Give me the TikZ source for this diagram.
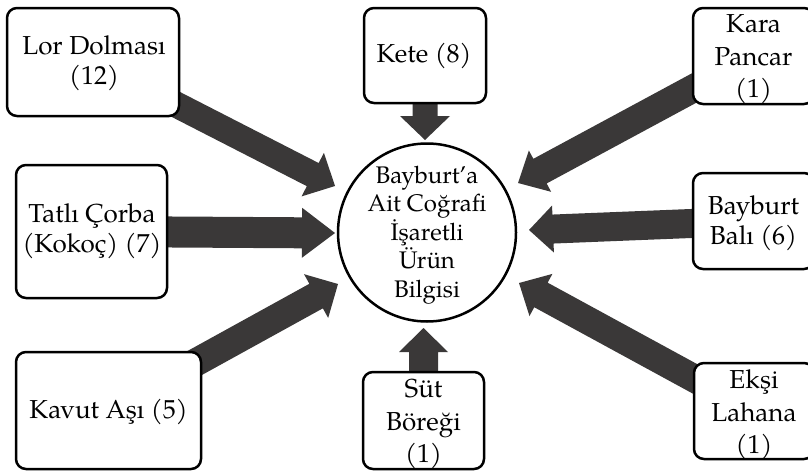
\documentclass[tikz,border=0pt]{standalone}
\usepackage{fontspec}
\setmainfont{TeX Gyre Pagella}
\usetikzlibrary{calc,backgrounds}

\definecolor{arrowgray}{HTML}{3A3838}

% Broad block arrow from #2 to the tip #3:
% #4 half shaft width, #5 half head width, #6 head length
\newcommand\blockarrow[6]{%
  \coordinate (#1base) at ($(#3)!#6!(#2)$);
  \fill[arrowfill]
    ($(#2)!#4!90:(#3)$) -- ($(#1base)!#4!-90:(#2)$) --
    ($(#1base)!#5!-90:(#2)$) -- (#3) -- ($(#1base)!#5!90:(#2)$) --
    ($(#1base)!#4!90:(#2)$) -- ($(#2)!#4!-90:(#3)$) -- cycle;}

\tikzset{
  arrowfill/.style={fill=arrowgray},
  itembox/.style={draw=black, fill=white, line width=2.5pt, rounded corners=10pt,
    inner sep=0pt},
  itemtext/.style={align=center, inner sep=0pt,
    font=\fontsize{26}{30}\selectfont},
  tallitemtext/.style={itemtext, font=\fontsize{26}{32.5}\selectfont},
  hub/.style={draw=black, fill=white, line width=2.5pt, circle, inner sep=0pt,
    minimum size=178pt},
  hubtext/.style={align=center, inner sep=0pt,
    font=\fontsize{24}{28.5}\selectfont},
}

\begin{document}
\begin{tikzpicture}[x=1pt, y=-1pt]
\useasboundingbox (0,0) rectangle (808,471);

% item boxes
\path
  (93,62)       node[itembox, minimum width=172, minimum height=108] (lor) {}
  (425,55.5)    node[itembox, minimum width=122, minimum height=95]  (kete) {}
  (753.5,56)    node[itembox, minimum width=121, minimum height=96]  (kara) {}
  (91.5,231.5)  node[itembox, minimum width=151, minimum height=133] (tatli) {}
  (753.5,221)   node[itembox, minimum width=121, minimum height=96]  (bal) {}
  (108.5,410.5) node[itembox, minimum width=185, minimum height=117] (kavut) {}
  (423.5,420.5) node[itembox, minimum width=121, minimum height=97]  (sut) {}
  (754,411)     node[itembox, minimum width=120, minimum height=96]  (eksi) {};

% box texts
\node[itemtext]     (lorT)   at (94,63)       {Lor Dolması\\(12)};
\node[itemtext]     (keteT)  at (424,56)      {Kete (8)};
\node[tallitemtext] (karaT)  at (753.5,59.5)  {Kara\\Pancar\\(1)};
\node[itemtext]     (tatliT) at (92,231.5)    {Tatlı Çorba\\(Kokoç) (7)};
\node[itemtext]     (balT)   at (753.5,223)   {Bayburt\\Balı (6)};
\node[itemtext]     (kavutT) at (108.5,411.5) {Kavut Aşı (5)};
\node[tallitemtext] (sutT)   at (423.5,424)   {Süt\\Böreği\\(1)};
\node[tallitemtext] (eksiT)  at (754,415)     {Ekşi\\Lahana\\(1)};

% central circle
\node[hub] (hub) at (427,232.5) {};
\node[hubtext] (hubT) at (427,235) {Bayburt’a\\Ait Coğrafi\\İşaretli\\Ürün\\Bilgisi};

% arrow tips around the centre
\coordinate (tipLor)   at (335,186);
\coordinate (tipKete)  at (425,140);
\coordinate (tipKara)  at (518,183);
\coordinate (tipTatli) at (335,233);
\coordinate (tipBal)   at (529,230);
\coordinate (tipKavut) at (338,284);
\coordinate (tipSut)   at (423.5,328);
\coordinate (tipEksi)  at (519,283);

% block arrows, running behind the boxes
\begin{pgfonlayer}{background}
\blockarrow{lorA}{lor}{tipLor}{13pt}{24.5pt}{25pt}
\blockarrow{keteA}{kete}{tipKete}{12.5pt}{25pt}{24pt}
\blockarrow{karaA}{kara}{tipKara}{14pt}{23.5pt}{25pt}
\blockarrow{tatliA}{tatli}{tipTatli}{15.5pt}{25pt}{33pt}
\blockarrow{balA}{bal}{tipBal}{14.5pt}{23.5pt}{24pt}
\blockarrow{kavutA}{kavut}{tipKavut}{14pt}{25pt}{25pt}
\blockarrow{sutA}{sut}{tipSut}{14.5pt}{24.5pt}{24pt}
\blockarrow{eksiA}{eksi}{tipEksi}{14pt}{24pt}{25pt}
\end{pgfonlayer}
\end{tikzpicture}
\end{document}
